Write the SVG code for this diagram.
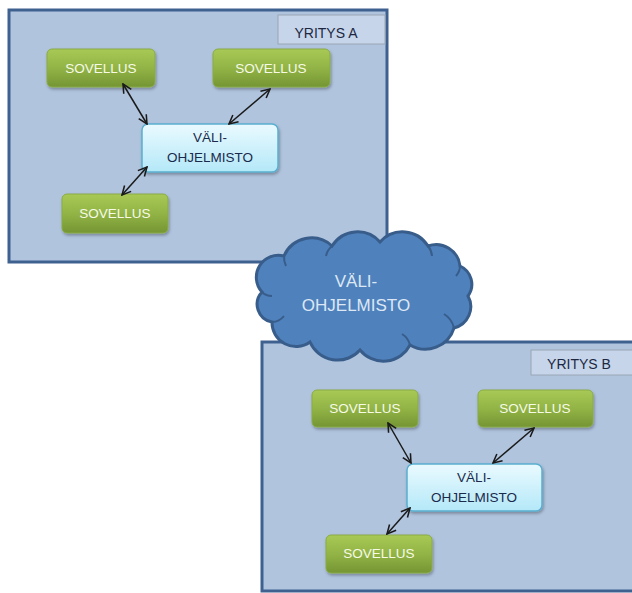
<svg xmlns="http://www.w3.org/2000/svg" width="632" height="593" viewBox="0 0 632 593">
  <style>
    .org { fill: #b0c4de; stroke: #3e6190; stroke-width: 3; }
    .tag { fill: #c6d5ea; stroke: #9aa6b4; stroke-width: 1; }
    .tagtxt { font-family: "Liberation Sans", Arial, sans-serif; font-size: 14px; fill: #1c2842; text-anchor: middle; }
    .app { fill: url(#gApp); stroke: #8aab46; stroke-width: 1; filter: url(#sh); }
    .apptxt { font-family: "Liberation Sans", Arial, sans-serif; font-size: 13.5px; fill: #f6fae6; text-anchor: middle; }
    .mw { fill: url(#gMw); stroke: #5aaed0; stroke-width: 1.5; filter: url(#sh); }
    .mwtxt { font-family: "Liberation Sans", Arial, sans-serif; font-size: 13.5px; fill: #1a2a4c; text-anchor: middle; }
    .link { stroke: #1a1a1a; stroke-width: 1.5; fill: none; marker-start: url(#ah); marker-end: url(#ah); }
    .cloud { fill: #4f81bd; stroke: #385d8a; stroke-width: 3; }
    .cloudin { fill: none; stroke: #385d8a; stroke-width: 2; }
    .cloudtxt { font-family: "Liberation Sans", Arial, sans-serif; font-size: 17px; fill: #dde8f4; text-anchor: middle; }
  </style>
  <defs>
    <linearGradient id="gApp" x1="0" y1="0" x2="0" y2="1">
      <stop offset="0" stop-color="#a8c955"/>
      <stop offset="0.5" stop-color="#92b446"/>
      <stop offset="1" stop-color="#749533"/>
    </linearGradient>
    <linearGradient id="gMw" x1="0" y1="0" x2="0" y2="1">
      <stop offset="0" stop-color="#eafaff"/>
      <stop offset="1" stop-color="#b4e8f8"/>
    </linearGradient>
    <filter id="sh" x="-10%" y="-10%" width="130%" height="140%">
      <feDropShadow dx="1" dy="2" stdDeviation="1.5" flood-color="#000" flood-opacity="0.3"/>
    </filter>
    <marker id="ah" viewBox="0 0 10 10" refX="9" refY="5" markerWidth="11" markerHeight="11" markerUnits="userSpaceOnUse" orient="auto-start-reverse">
      <polyline points="1,1 9,5 1,9" fill="none" stroke="#1a1a1a" stroke-width="1.4"/>
    </marker>
  </defs>

  <!-- Organisation A -->
  <g id="yritys-a">
    <rect class="org" x="9" y="10" width="378" height="252"/>
    <rect class="tag" x="278" y="15" width="107" height="29"/>
    <text class="tagtxt" x="326" y="38">YRITYS A</text>
  </g>
  <g id="a-sovellus-1">
    <rect class="app" x="47" y="49" width="108" height="38" rx="5"/>
    <text class="apptxt" x="101" y="73">SOVELLUS</text>
  </g>
  <g id="a-sovellus-2">
    <rect class="app" x="213" y="49" width="117" height="38" rx="5"/>
    <text class="apptxt" x="271" y="73">SOVELLUS</text>
  </g>
  <g id="a-sovellus-3">
    <rect class="app" x="62" y="194" width="106" height="39" rx="5"/>
    <text class="apptxt" x="115" y="218">SOVELLUS</text>
  </g>
  <g id="a-valiohjelmisto">
    <rect class="mw" x="142" y="124" width="136" height="48" rx="6"/>
    <text class="mwtxt" x="210" y="142">VÄLI-</text>
    <text class="mwtxt" x="210" y="162">OHJELMISTO</text>
  </g>

  <!-- Organisation B -->
  <g id="yritys-b">
    <rect class="org" x="262" y="342" width="380" height="249"/>
    <rect class="tag" x="531" y="350" width="110" height="25"/>
    <text class="tagtxt" x="579" y="369">YRITYS B</text>
  </g>
  <g id="b-sovellus-1">
    <rect class="app" x="312" y="390" width="106" height="37" rx="5"/>
    <text class="apptxt" x="365" y="413">SOVELLUS</text>
  </g>
  <g id="b-sovellus-2">
    <rect class="app" x="478" y="390" width="115" height="37" rx="5"/>
    <text class="apptxt" x="535" y="413">SOVELLUS</text>
  </g>
  <g id="b-sovellus-3">
    <rect class="app" x="326" y="535" width="106" height="38" rx="5"/>
    <text class="apptxt" x="379" y="558">SOVELLUS</text>
  </g>
  <g id="b-valiohjelmisto">
    <rect class="mw" x="407" y="464" width="135" height="47" rx="6"/>
    <text class="mwtxt" x="474" y="482">VÄLI-</text>
    <text class="mwtxt" x="474" y="502">OHJELMISTO</text>
  </g>

  <!-- Connectors -->
  <g id="connectors">
    <line class="link" x1="123" y1="84" x2="147" y2="124"/>
    <line class="link" x1="270" y1="89" x2="229" y2="124"/>
    <line class="link" x1="147" y1="167" x2="122" y2="195"/>
    <line class="link" x1="388" y1="423" x2="411" y2="463"/>
    <line class="link" x1="534" y1="428" x2="493" y2="463"/>
    <line class="link" x1="410" y1="508" x2="387" y2="534"/>
  </g>

  <!-- Shared middleware cloud -->
  <g id="pilvi">
    <path class="cloud" d="M262,292
      A22,22 0 0 1 284,256
      A30,30 0 0 1 332,246
      A30,30 0 0 1 380,242
      A30,30 0 0 1 428,246
      A24,24 0 0 1 460,266
      A20,20 0 0 1 468,296
      A22,22 0 0 1 454,328
      A30,30 0 0 1 410,345
      A30,30 0 0 1 360,350
      A30,30 0 0 1 310,342
      A24,24 0 0 1 272,322
      A18,18 0 0 1 262,292 Z"/>
    <path class="cloudin" d="M272,322 A16,16 0 0 0 284,316"/>
    <path class="cloudin" d="M262,292 A14,14 0 0 0 272,296"/>
    <path class="cloudin" d="M284,256 A20,20 0 0 0 286,266"/>
    <path class="cloudin" d="M332,246 A18,18 0 0 0 326,256"/>
    <path class="cloudin" d="M428,246 A18,18 0 0 1 432,256"/>
    <path class="cloudin" d="M460,266 A16,16 0 0 1 456,276"/>
    <path class="cloudin" d="M454,328 A22,22 0 0 0 444,314"/>
    <path class="cloudin" d="M410,345 A18,18 0 0 0 402,334"/>
    <text class="cloudtxt" x="356" y="287">VÄLI-</text>
    <text class="cloudtxt" x="356" y="311">OHJELMISTO</text>
  </g>
</svg>
